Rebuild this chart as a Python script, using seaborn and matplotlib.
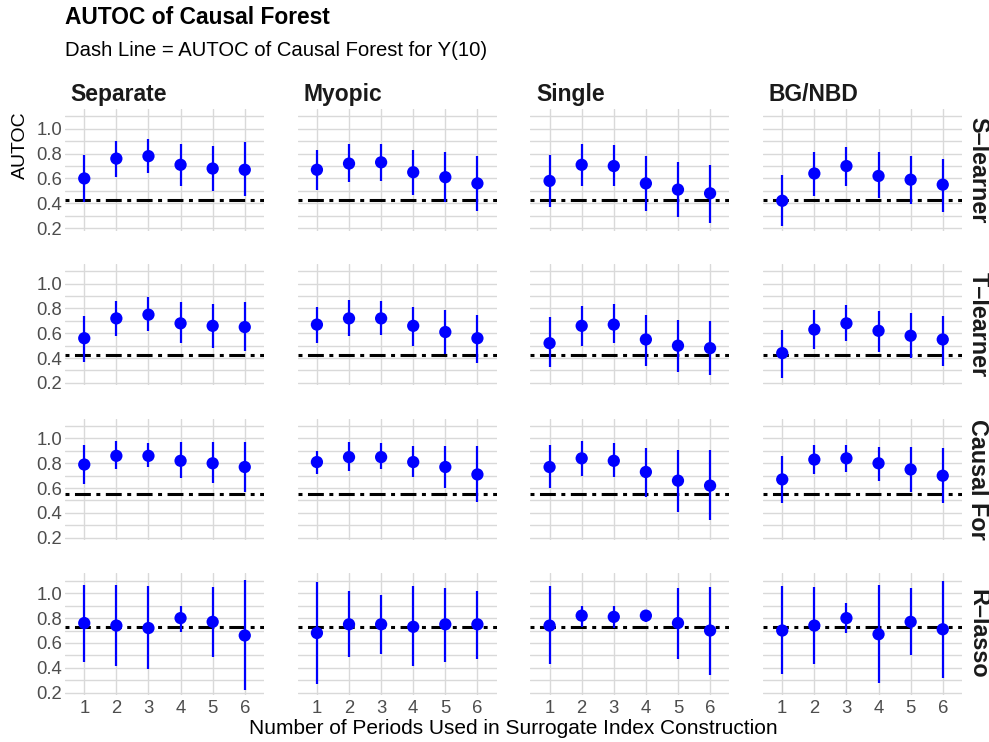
import pandas as pd
import seaborn as sns
import matplotlib.pyplot as plt
from matplotlib.ticker import FixedLocator

sns.set_theme(style="whitegrid")
plt.rcParams['font.family'] = ['Liberation Sans', 'DejaVu Sans']

methods = ["Separate", "Myopic", "Single", "BG/NBD"]
learners = ["S\u2013learner", "T\u2013learner", "Causal For", "R\u2013lasso"]
periods = [1, 2, 3, 4, 5, 6]

# AUTOC of causal forest for Y(10), one per learner row (the dash line)
ref_autoc = [0.425, 0.425, 0.555, 0.73]

# each learner: one list per method (Separate, Myopic, Single, BG/NBD), one value per period
s_est = [[0.60, 0.76, 0.78, 0.71, 0.68, 0.67],
         [0.67, 0.72, 0.73, 0.65, 0.61, 0.56],
         [0.58, 0.71, 0.70, 0.56, 0.51, 0.48],
         [0.42, 0.64, 0.70, 0.62, 0.59, 0.55]]
s_lo = [[0.41, 0.61, 0.64, 0.54, 0.50, 0.46],
        [0.51, 0.57, 0.58, 0.47, 0.41, 0.34],
        [0.37, 0.54, 0.54, 0.34, 0.29, 0.24],
        [0.22, 0.46, 0.54, 0.44, 0.39, 0.33]]
s_hi = [[0.79, 0.90, 0.92, 0.88, 0.86, 0.89],
        [0.83, 0.88, 0.88, 0.83, 0.81, 0.78],
        [0.79, 0.88, 0.87, 0.78, 0.73, 0.71],
        [0.63, 0.81, 0.85, 0.81, 0.78, 0.76]]

t_est = [[0.56, 0.72, 0.75, 0.68, 0.66, 0.65],
         [0.67, 0.72, 0.72, 0.66, 0.61, 0.56],
         [0.52, 0.66, 0.67, 0.55, 0.50, 0.48],
         [0.44, 0.63, 0.68, 0.62, 0.58, 0.55]]
t_lo = [[0.37, 0.58, 0.62, 0.52, 0.48, 0.46],
        [0.52, 0.58, 0.59, 0.50, 0.43, 0.36],
        [0.33, 0.50, 0.52, 0.34, 0.29, 0.26],
        [0.24, 0.47, 0.54, 0.45, 0.40, 0.34]]
t_hi = [[0.74, 0.86, 0.89, 0.85, 0.84, 0.85],
        [0.81, 0.87, 0.86, 0.81, 0.79, 0.75],
        [0.73, 0.82, 0.84, 0.75, 0.71, 0.70],
        [0.63, 0.79, 0.83, 0.78, 0.76, 0.74]]

cf_est = [[0.79, 0.86, 0.86, 0.82, 0.80, 0.77],
          [0.81, 0.85, 0.85, 0.81, 0.77, 0.71],
          [0.77, 0.84, 0.82, 0.73, 0.66, 0.62],
          [0.67, 0.83, 0.84, 0.80, 0.75, 0.70]]
cf_lo = [[0.63, 0.75, 0.77, 0.68, 0.64, 0.57],
         [0.71, 0.74, 0.75, 0.69, 0.60, 0.49],
         [0.60, 0.70, 0.69, 0.53, 0.41, 0.34],
         [0.48, 0.71, 0.73, 0.66, 0.57, 0.48]]
cf_hi = [[0.95, 0.98, 0.96, 0.97, 0.97, 0.97],
         [0.90, 0.97, 0.96, 0.94, 0.94, 0.94],
         [0.95, 0.98, 0.96, 0.92, 0.91, 0.91],
         [0.86, 0.95, 0.95, 0.93, 0.93, 0.92]]

r_est = [[0.76, 0.74, 0.72, 0.80, 0.77, 0.66],
         [0.68, 0.75, 0.75, 0.73, 0.75, 0.75],
         [0.74, 0.82, 0.81, 0.82, 0.76, 0.70],
         [0.70, 0.74, 0.80, 0.67, 0.77, 0.71]]
r_lo = [[0.45, 0.41, 0.39, 0.69, 0.49, 0.22],
        [0.27, 0.49, 0.51, 0.41, 0.45, 0.47],
        [0.43, 0.73, 0.72, 0.77, 0.47, 0.34],
        [0.35, 0.43, 0.68, 0.28, 0.50, 0.32]]
r_hi = [[1.07, 1.07, 1.06, 0.90, 1.05, 1.11],
        [1.09, 1.02, 0.99, 1.06, 1.04, 1.02],
        [1.06, 0.90, 0.90, 0.86, 1.04, 1.05],
        [1.06, 1.05, 0.92, 1.07, 1.04, 1.10]]

# long format table for the facet grid
rows = []
for learner, est, lo, hi in zip(learners, [s_est, t_est, cf_est, r_est],
                                [s_lo, t_lo, cf_lo, r_lo], [s_hi, t_hi, cf_hi, r_hi]):
    for m, method in enumerate(methods):
        for p, period in enumerate(periods):
            rows.append({'learner': learner, 'method': method, 'period': period,
                         'est': est[m][p], 'lo': lo[m][p], 'hi': hi[m][p]})
df = pd.DataFrame(rows)


def draw_ci(data, color=None, **kws):
    ax = plt.gca()
    ax.vlines(data['period'], data['lo'], data['hi'], color='blue', lw=1.6, zorder=3)


g = sns.FacetGrid(df, row='learner', col='method', row_order=learners, col_order=methods,
                  sharex=True, sharey=True, height=1.6, aspect=1.6, despine=False)
g.map_dataframe(draw_ci)
g.map_dataframe(sns.scatterplot, x='period', y='est', color='blue', s=78,
                edgecolor='none', zorder=4)
g.set_titles("")
g.set_axis_labels("", "")

for i, learner in enumerate(learners):
    for j, method in enumerate(methods):
        ax = g.axes[i, j]
        ax.axhline(ref_autoc[i], color='black', lw=2.2, zorder=2,
                   linestyle=(0, (1.3, 1.8, 5.2, 1.8)))
        ax.set_xlim(0.4, 6.6)
        ax.set_ylim(0.18, 1.16)
        ax.xaxis.set_major_locator(FixedLocator(periods))
        ax.yaxis.set_major_locator(FixedLocator([0.2, 0.4, 0.6, 0.8, 1.0]))
        ax.yaxis.set_minor_locator(FixedLocator([0.3, 0.5, 0.7, 0.9, 1.1]))
        ax.set_xticklabels([str(p) for p in periods])
        ax.set_yticklabels(["0.2", "0.4", "0.6", "0.8", "1.0"])
        ax.grid(True, which='major', axis='x', color='#d9d9d9', lw=1.0)
        ax.grid(True, which='both', axis='y', color='#d9d9d9', lw=1.0)
        ax.tick_params(axis='both', which='both', length=0, labelsize=13.3,
                       labelcolor='#4d4d4d')
        ax.tick_params(axis='x', pad=3.5)
        ax.tick_params(axis='y', pad=2)
        for side in ax.spines.values():
            side.set_visible(False)
        ax.set_facecolor('white')
        if i == 0:
            ax.annotate(method, xy=(0, 1), xycoords='axes fraction', xytext=(4, 6),
                        textcoords='offset points', ha='left', va='baseline',
                        fontsize=16.5, fontweight='bold', color='#1a1a1a')
        if j == len(methods) - 1:
            ax.text(1.08, 0.5, learner, transform=ax.transAxes, rotation=270,
                    ha='center', va='center', fontsize=16.8, fontweight='bold',
                    color='#1a1a1a')

fig = g.figure
fig.set_size_inches(9.89, 7.42)
fig.set_dpi(100)
fig.subplots_adjust(left=65 / 989, right=962 / 989, top=1 - 109 / 742,
                    bottom=1 - 695 / 742, wspace=0.169, hspace=0.274)

fig.text(65 / 989, 1 - 24 / 742, "AUTOC of Causal Forest", ha='left', va='baseline',
         fontsize=16.4, fontweight='bold', color='black')
fig.text(65 / 989, 1 - 56 / 742, "Dash Line = AUTOC of Causal Forest for Y(10)",
         ha='left', va='baseline', fontsize=14.6, color='black')
fig.text(20.5 / 989, 1 - 111 / 742, "AUTOC", rotation=90, ha='center', va='top',
         fontsize=14, color='black')
fig.text(513.5 / 989, 1 - 729 / 742, "Number of Periods Used in Surrogate Index Construction",
         ha='center', va='center', fontsize=15, color='black')

fig.savefig("out.png", dpi=100, facecolor='white')
